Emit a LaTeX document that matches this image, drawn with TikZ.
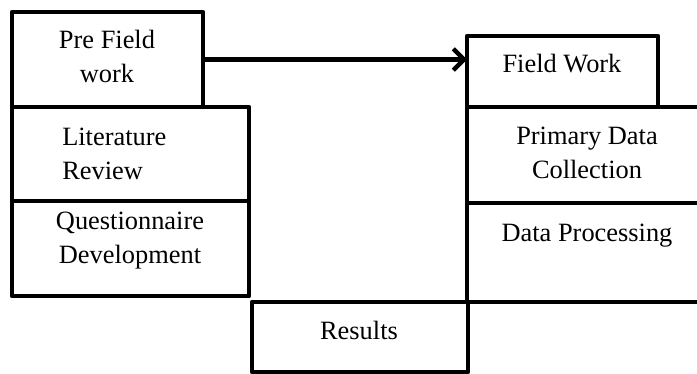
\documentclass[tikz,border=0pt]{standalone}
\usepackage{fontspec}
\setmainfont{Liberation Serif}
\usetikzlibrary{arrows.meta}
\tikzset{
  blk/.style={draw=black, line width=3.4pt, line join=round, inner sep=0pt, outer sep=0pt, anchor=north west},
  txt/.style={font=\fontsize{19.8}{25.5}\selectfont, inner sep=0pt, align=center},
  ltxt/.style={txt, align=left, anchor=west},
  flow/.style={draw=black, line width=3.2pt, -{Straight Barb[length=8pt,width=16pt]}}
}
\begin{document}
\begin{tikzpicture}[x=0.75pt,y=-0.75pt]
\useasboundingbox (0,0) rectangle (697,374);
% left column
\node[blk, minimum width=143.25pt, minimum height=71.25pt] (pre) at (12,12) {};
\node[blk, minimum width=177.75pt, minimum height=70.5pt] (lit) at (12,107) {};
\node[blk, minimum width=177.75pt, minimum height=71.25pt] (quest) at (12,201) {};
% right column
\node[blk, minimum width=143.25pt, minimum height=53.25pt] (field) at (467,36) {};
\node[blk, minimum width=176.25pt, minimum height=72pt] (prim) at (467,107) {};
\node[blk, minimum width=176.25pt, minimum height=74.25pt] (proc) at (467,203) {};
% results
\node[blk, minimum width=162pt, minimum height=52.5pt] (res) at (252,302) {};
% texts
\node[txt] (tpre) at (107,59) {\strut Pre Field\\\strut work};
\node[ltxt] (tlit) at (62,156) {\strut Literature\\\strut Review};
\node[txt] (tquest) at (130,240) {\strut Questionnaire\\\strut Development};
\node[txt] (tfield) at (562,66) {\strut Field Work};
\node[txt] (tprim) at (587,155) {\strut Primary Data\\\strut Collection};
\node[txt] (tproc) at (587,235) {\strut Data Processing};
\node[txt] (tres) at (359,333) {\strut Results};
% arrow
\draw[flow] (pre.east) -- (field.west |- pre.east);
\end{tikzpicture}
\end{document}
